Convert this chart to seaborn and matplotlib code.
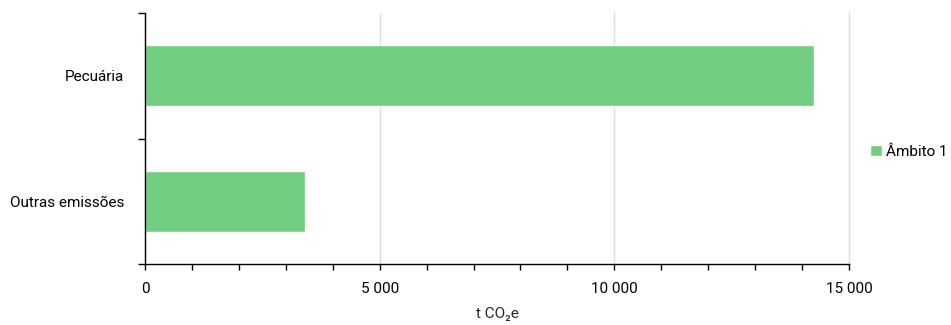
import pandas as pd
import matplotlib.pyplot as plt
import matplotlib.ticker as mticker
import seaborn as sns

# Data
categories = ['Pecuária', 'Outras emissões']
ambito1 = [14250, 3410]
series_name = 'Âmbito 1'

df = pd.DataFrame({'categoria': categories, 'valor': ambito1, 'serie': series_name})

sns.set_style('white')
plt.rcParams['font.family'] = ['Roboto', 'DejaVu Sans']
plt.rcParams['text.color'] = 'black'
plt.rcParams['xtick.color'] = 'black'
plt.rcParams['ytick.color'] = 'black'

fig = plt.figure(figsize=(9.51, 3.25), dpi=100)
ax = fig.add_axes([145 / 951, 1 - 264 / 325, (849 - 145) / 951, (264 - 13) / 325])

sns.barplot(data=df, x='valor', y='categoria', hue='serie', orient='h',
            palette=['#71cd80'], width=0.49, ax=ax, saturation=1)

ax.set_xlim(0, 15000)
ax.set_ylim(1.5, -0.5)

# x axis: major ticks every 5000, minor every 1000
ax.xaxis.set_major_locator(mticker.MultipleLocator(5000))
ax.xaxis.set_minor_locator(mticker.MultipleLocator(1000))
ax.xaxis.set_major_formatter(mticker.FuncFormatter(lambda v, p: f'{int(v):,}'.replace(',', ' ')))
ax.tick_params(axis='x', which='both', direction='out', length=4, width=1, color='black',
               bottom=True, labelsize=11, pad=9)
ax.grid(axis='x', which='major', color='#dddddd', linewidth=1)
for gl in ax.get_xgridlines():
    gl.set_clip_on(False)
ax.set_axisbelow(True)

# y axis: tick marks between categories, labels on categories
ax.set_yticks([0, 1])
ax.set_yticklabels(categories)
ax.yaxis.set_minor_locator(mticker.FixedLocator([-0.5, 0.5, 1.5]))
ax.tick_params(axis='y', which='major', length=0, labelsize=11, pad=15)
ax.tick_params(axis='y', which='minor', direction='out', length=5, width=1, color='black', left=True)

for s in ['top', 'right']:
    ax.spines[s].set_visible(False)
for s in ['left', 'bottom']:
    ax.spines[s].set_color('black')
    ax.spines[s].set_linewidth(1)

ax.set_xlabel('t CO₂e', fontsize=11, labelpad=8)
ax.set_ylabel('')

ax.legend(loc='center left', bbox_to_anchor=(1.0, 0.446), frameon=False, fontsize=11,
          borderaxespad=1.4, borderpad=0, handlelength=0.75, handleheight=0.75, handletextpad=0.3)

fig.savefig('out.png', dpi=100)
